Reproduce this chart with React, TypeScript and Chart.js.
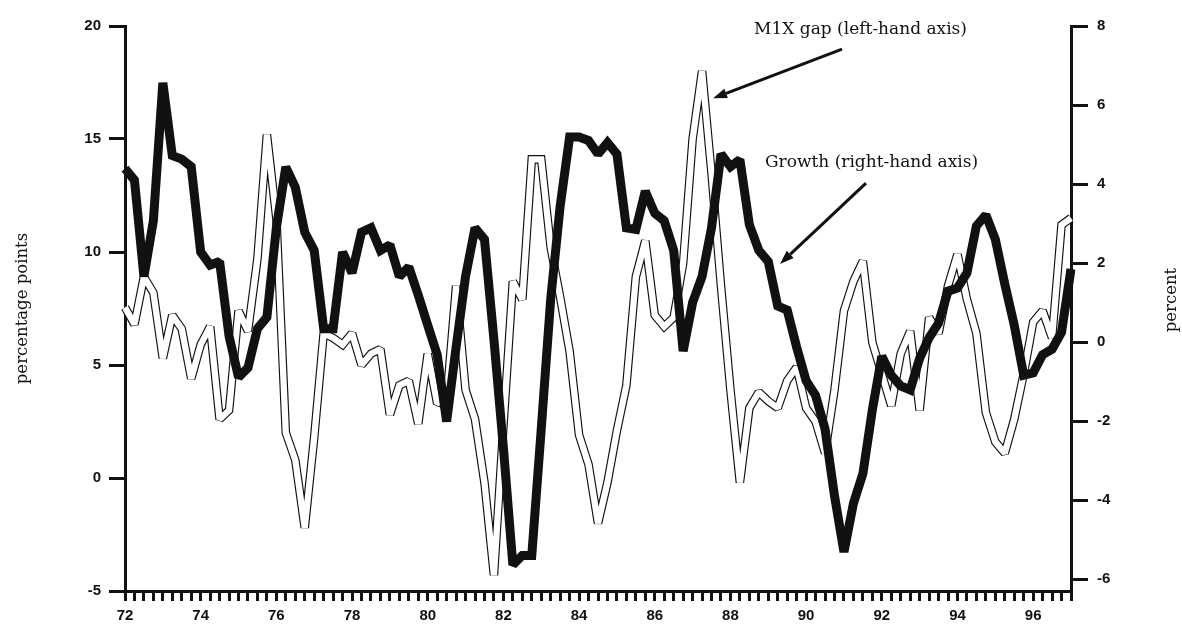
import React, { useEffect, useRef } from 'react';
import { Chart, registerables } from 'chart.js';

Chart.register(...registerables);

// Quarterly observations, 1972Q1 .. 1997Q1
const quarterLabels: string[] = [];
for (let yr = 72; yr <= 97; yr++) {
  for (let q = 1; q <= 4; q++) {
    if (yr === 97 && q > 1) break;
    quarterLabels.push(`${yr}Q${q}`);
  }
}

// M1X gap, percentage points (left-hand axis)
const m1xGap = [
  7.55, 6.8, 8.9, 8.2, 5.3, 7.2, 6.6, 4.4, 5.9, 6.7,
  2.6, 3.0, 7.4, 6.5, 9.7, 15.2, 11.5, 2.0, 0.8, -2.2,
  1.8, 6.4, 6.2, 5.9, 6.4, 5.0, 5.5, 5.7, 2.8, 4.1,
  4.3, 2.4, 5.5, 3.3, 3.5, 8.5, 3.9, 2.6, -0.2, -4.3,
  2.3, 8.7, 7.9, 14.1, 14.1, 10.2, 8.0, 5.6, 1.9, 0.6,
  -2.0, -0.2, 2.1, 4.1, 8.9, 10.5, 7.2, 6.7, 7.1, 9.5,
  15.0, 18.0, 13.5, 8.5, 3.9, -0.2, 3.1, 3.8, 3.4, 3.1,
  4.3, 4.9, 3.1, 2.5, 1.1, 3.9, 7.4, 8.7, 9.6, 6.0,
  4.6, 3.2, 5.5, 6.5, 3.0, 7.1, 6.4, 8.5, 9.9, 7.9,
  6.4, 2.9, 1.6, 1.1, 2.6, 4.6, 6.9, 7.4, 6.2, 11.2,
  11.5,
];

// Growth, percent (right-hand axis)
const growth = [
  4.39, 4.1, 1.66, 3.07, 6.56, 4.72, 4.63, 4.44, 2.28, 1.95,
  2.04, 0.15, -0.89, -0.65, 0.34, 0.63, 2.89, 4.43, 3.92, 2.78,
  2.32, 0.34, 0.34, 2.28, 1.75, 2.78, 2.89, 2.32, 2.46, 1.66,
  1.9, 1.19, 0.43, -0.32, -2.01, -0.13, 1.66, 2.89, 2.6, 0.06,
  -2.67, -5.64, -5.4, -5.4, -2.2, 1.09, 3.44, 5.19, 5.19, 5.1,
  4.76, 5.05, 4.76, 2.89, 2.85, 3.82, 3.26, 3.07, 2.32, -0.23,
  1.0, 1.66, 2.89, 4.76, 4.44, 4.62, 2.97, 2.32, 2.04, 0.91,
  0.81, -0.13, -0.98, -1.35, -2.2, -3.89, -5.31, -4.08, -3.33, -1.72,
  -0.36, -0.84, -1.11, -1.21, -0.41, 0.11, 0.48, 1.29, 1.37, 1.75,
  2.94, 3.22, 2.6, 1.47, 0.43, -0.84, -0.78, -0.32, -0.18, 0.25,
  1.85,
];

const leftTicks = [-5, 0, 5, 10, 15, 20];
const rightTicks = [-6, -4, -2, 0, 2, 4, 6, 8];
const xTickYears = ['72', '74', '76', '78', '80', '82', '84', '86', '88', '90', '92', '94', '96'];

// Annotations in data units: [quarter index, left-axis value]
const notes = [
  { text: 'M1X gap (left-hand axis)', textAt: [66.5, 19.82], from: [75.8, 18.98], to: [62.16, 16.8] },
  { text: 'Growth (right-hand axis)', textAt: [67.65, 13.94], from: [78.33, 13.05], to: [69.24, 9.47] },
];

const INK = '#111';
const tickFont = { family: '"Liberation Sans", Arial, sans-serif', size: 15, weight: 'bold' as const };

const joinPlugin = {
  id: 'joins',
  beforeDatasetsDraw(chart: any) { chart.ctx.miterLimit = 1.6; },
  afterDatasetsDraw(chart: any) { chart.ctx.miterLimit = 10; },
};

const notesPlugin = {
  id: 'notes',
  afterDraw(chart: any) {
    const { ctx, scales, chartArea } = chart;
    const xs = scales.x;
    const ys = scales.y;
    ctx.save();
    ctx.fillStyle = INK;
    ctx.strokeStyle = INK;
    ctx.font = '17px "DejaVu Serif", serif';
    ctx.textBaseline = 'middle';
    ctx.textAlign = 'left';
    for (const n of notes) {
      ctx.fillText(n.text, xs.getPixelForValue(n.textAt[0]), ys.getPixelForValue(n.textAt[1]));
      const x1 = xs.getPixelForValue(n.from[0]);
      const y1 = ys.getPixelForValue(n.from[1]);
      const x2 = xs.getPixelForValue(n.to[0]);
      const y2 = ys.getPixelForValue(n.to[1]);
      const ang = Math.atan2(y2 - y1, x2 - x1);
      const head = 14;
      const half = 5;
      const bx = x2 - head * Math.cos(ang);
      const by = y2 - head * Math.sin(ang);
      ctx.lineWidth = 3;
      ctx.beginPath();
      ctx.moveTo(x1, y1);
      ctx.lineTo(bx, by);
      ctx.stroke();
      ctx.beginPath();
      ctx.moveTo(x2, y2);
      ctx.lineTo(bx - half * Math.sin(ang), by + half * Math.cos(ang));
      ctx.lineTo(bx + half * Math.sin(ang), by - half * Math.cos(ang));
      ctx.closePath();
      ctx.fill();
    }
    // right-hand axis title, reading bottom to top
    ctx.font = '16.5px "DejaVu Serif", serif';
    ctx.textAlign = 'center';
    ctx.translate(chartArea.right + 101, 300);
    ctx.rotate(-Math.PI / 2);
    ctx.fillText('percent', 0, 0);
    ctx.restore();
  },
};

export default function App() {
  const ref = useRef<HTMLCanvasElement>(null);

  useEffect(() => {
    if (!ref.current) return;
    const lineBase = { pointRadius: 0, tension: 0, fill: false, borderJoinStyle: 'miter' as const, borderCapStyle: 'butt' as const };
    const chart = new Chart(ref.current, {
      type: 'line',
      data: {
        labels: quarterLabels,
        datasets: [
          { ...lineBase, label: 'Growth', data: growth, yAxisID: 'y1', borderColor: INK, borderWidth: 9 },
          { ...lineBase, label: 'M1X gap (inner)', data: m1xGap, yAxisID: 'y', borderColor: '#ffffff', borderWidth: 6.3 },
          { ...lineBase, label: 'M1X gap', data: m1xGap, yAxisID: 'y', borderColor: INK, borderWidth: 8.6 },
        ],
      },
      options: {
        responsive: false,
        animation: false,
        devicePixelRatio: 1,
        layout: { padding: { top: 26, left: 0, right: 0, bottom: 0 } },
        plugins: { legend: { display: false }, tooltip: { enabled: false } },
        scales: {
          x: {
            type: 'category',
            offset: false,
            grid: { drawOnChartArea: false, offset: false, tickLength: 10, lineWidth: 3, color: INK },
            border: { color: INK, width: 3 },
            ticks: {
              autoSkip: false,
              maxRotation: 0,
              minRotation: 0,
              padding: 6,
              color: INK,
              font: tickFont,
              callback: (_v: any, index: number) => (index % 8 === 0 ? xTickYears[index / 8] ?? '' : ''),
            },
            afterFit: (s: any) => { s.height = 33; },
          },
          y: {
            position: 'left',
            min: -5,
            max: 20,
            afterBuildTicks: (s: any) => { s.ticks = leftTicks.map((v) => ({ value: v })); },
            grid: { drawOnChartArea: false, tickLength: 16, lineWidth: 3, color: INK },
            border: { color: INK, width: 3 },
            ticks: { color: INK, font: tickFont, padding: 8 },
            title: {
              display: true,
              text: 'percentage points',
              color: INK,
              font: { family: '"DejaVu Serif", serif', size: 16.5 },
              padding: { top: 13, bottom: 0 },
            },
            afterFit: (s: any) => { s.width = 125; },
          },
          y1: {
            position: 'right',
            min: -6.3,
            max: 8,
            afterBuildTicks: (s: any) => { s.ticks = rightTicks.map((v) => ({ value: v })); },
            grid: { drawOnChartArea: false, tickLength: 17, lineWidth: 3, color: INK },
            border: { color: INK, width: 3 },
            ticks: { color: INK, font: tickFont, padding: 9 },
            afterFit: (s: any) => { s.width = 111; },
          },
        },
      },
      plugins: [joinPlugin, notesPlugin],
    });
    return () => chart.destroy();
  }, []);

  return (
    <div style={{ position: 'absolute', left: 0, top: 0, width: 1182, height: 624, background: '#fff' }}>
      <canvas ref={ref} width={1182} height={624} style={{ display: 'block', width: 1182, height: 624 }} />
    </div>
  );
}
